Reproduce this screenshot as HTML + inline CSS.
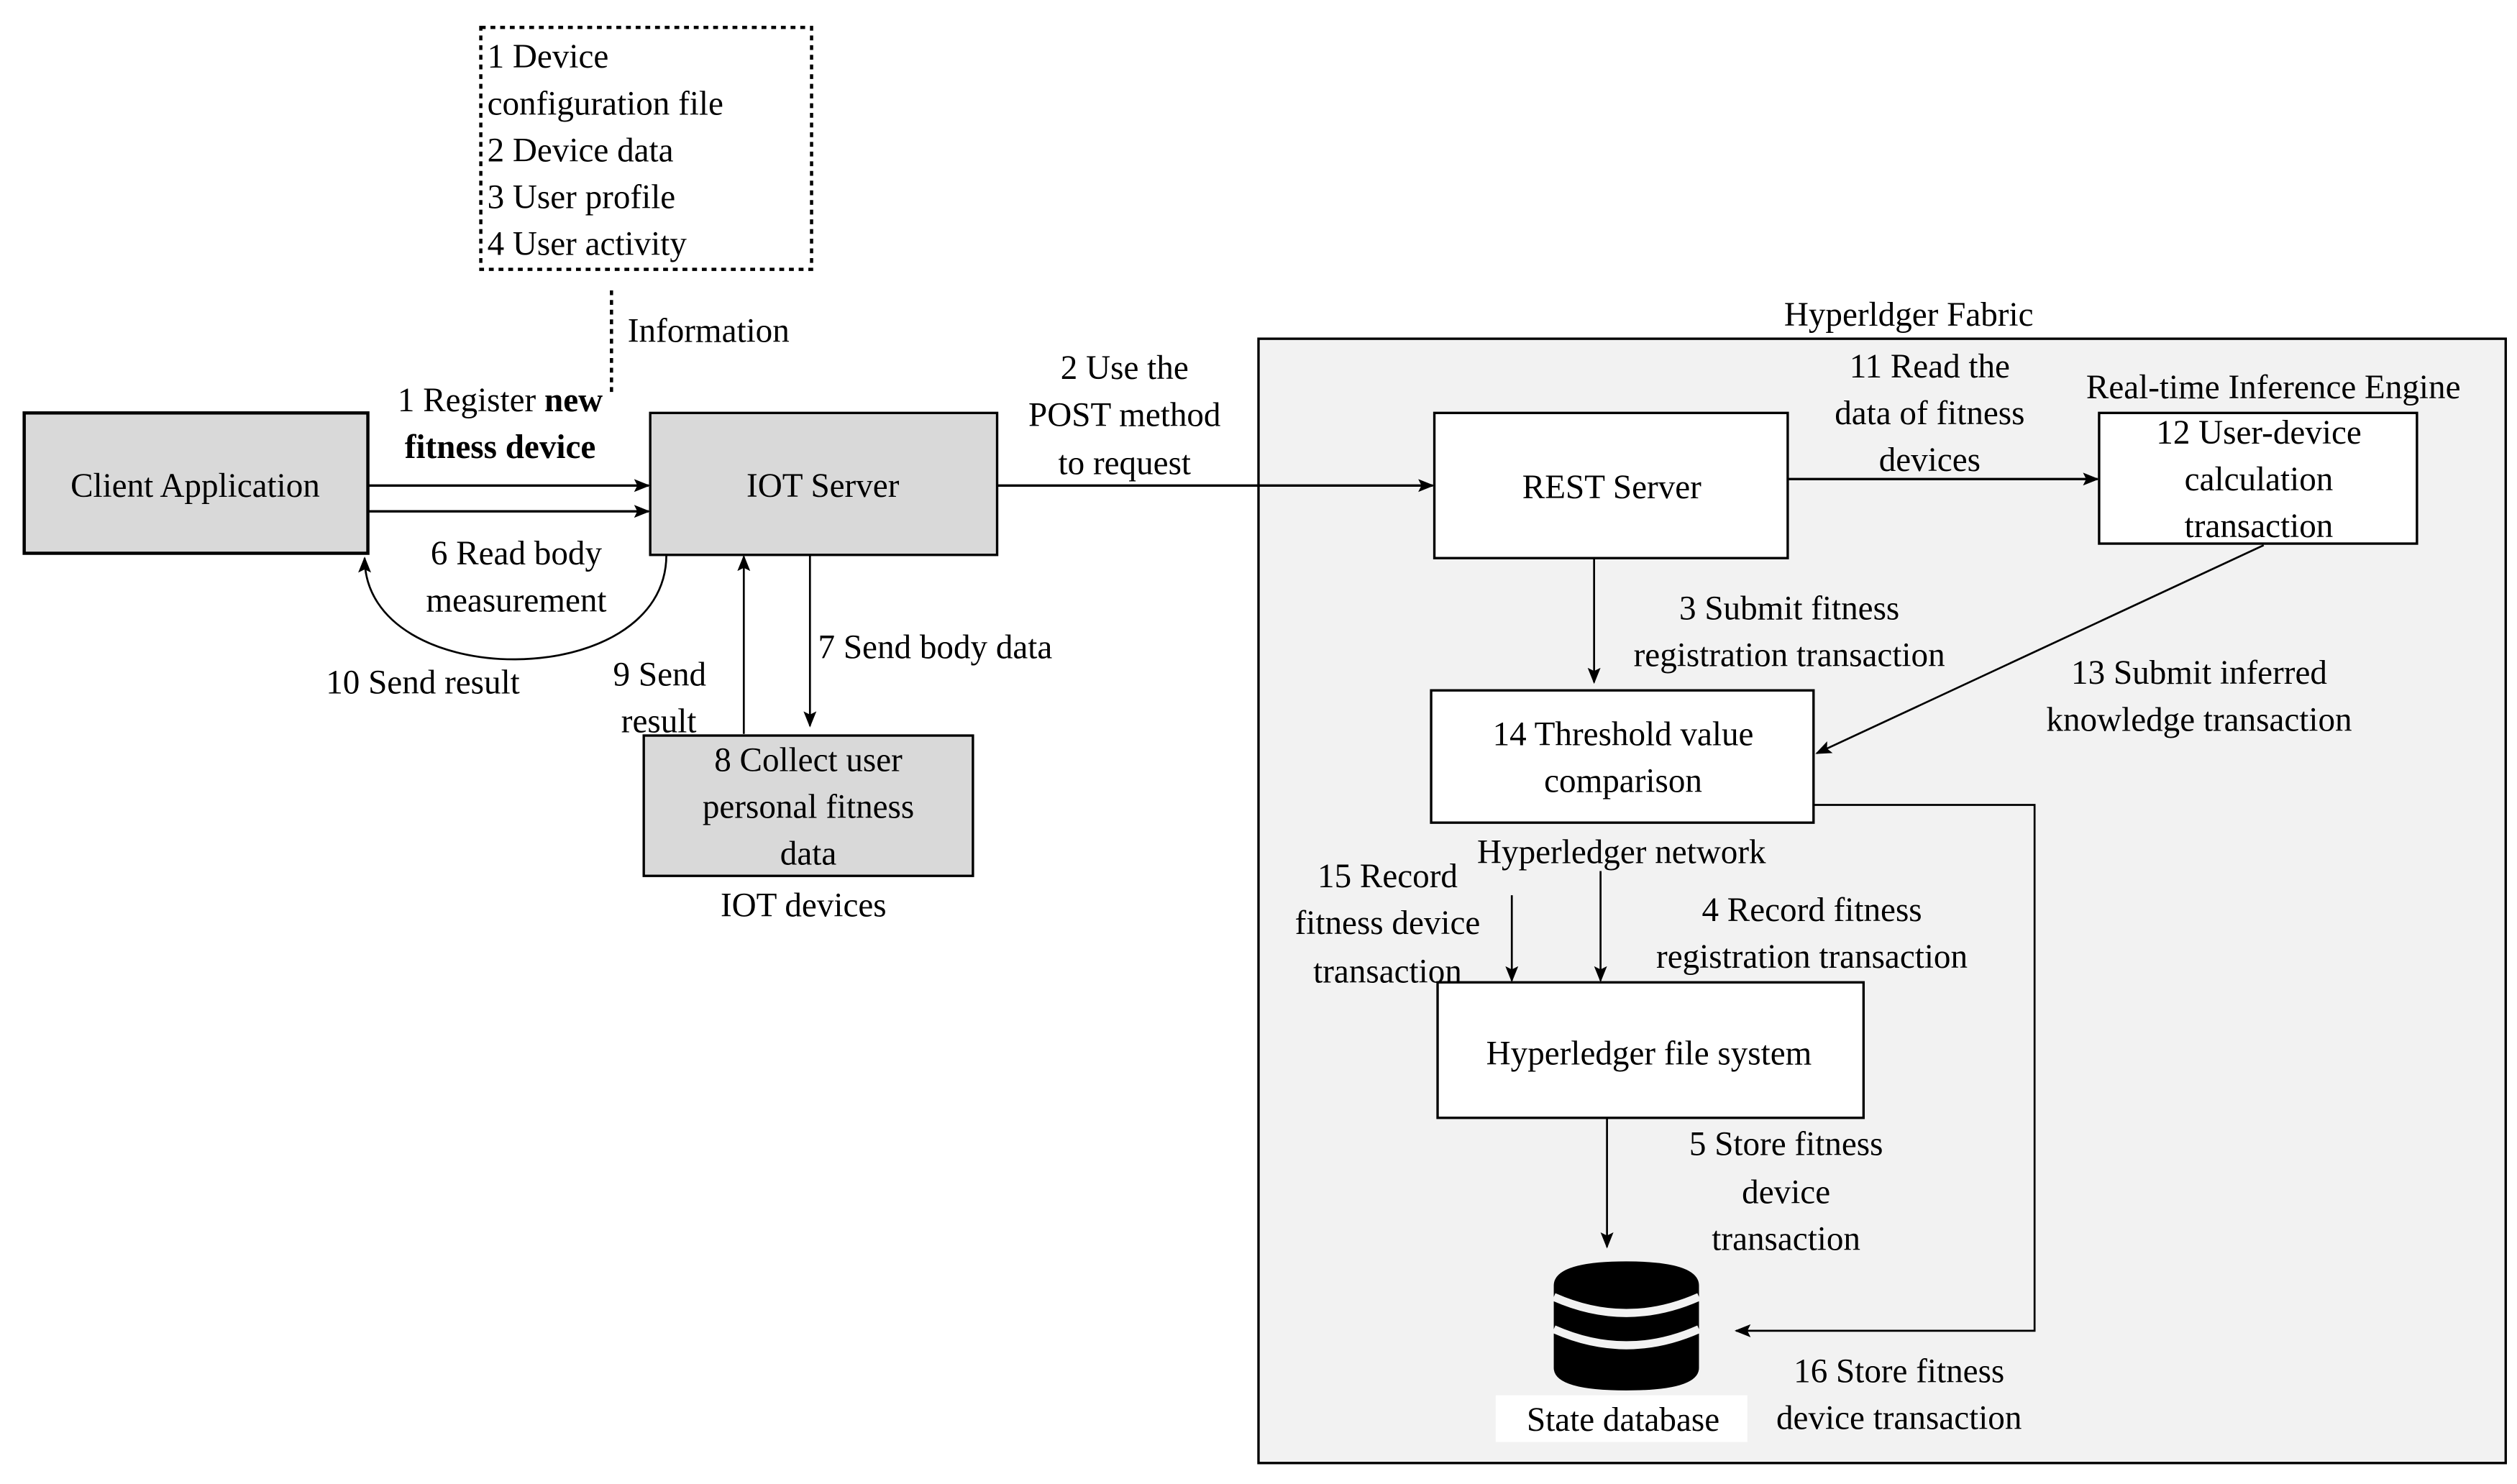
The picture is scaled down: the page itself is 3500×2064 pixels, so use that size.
<!DOCTYPE html>
<html><head><meta charset="utf-8"><style>
html,body{margin:0;padding:0;background:#fff;}
svg{display:block;}
text{font-family:"Liberation Serif","Times New Roman","DejaVu Serif",serif;font-size:21px;fill:#000;}
.c{text-anchor:middle;}
</style></head><body>
<svg width="3500" height="2064" viewBox="0 0 1560 920" preserveAspectRatio="none" xmlns="http://www.w3.org/2000/svg">
<defs>
<marker id="a" markerWidth="10" markerHeight="8" refX="9" refY="4" orient="auto" markerUnits="userSpaceOnUse">
<path d="M0,0 L10,4 L0,8 L2,4 z" fill="#000"/></marker>
</defs>
<rect x="298" y="17" width="205" height="150" fill="none" stroke="#000" stroke-width="2" stroke-dasharray="3,3"/>
<text x="302" y="42">1 Device</text>
<text x="302" y="71">configuration file</text>
<text x="302" y="100">2 Device data</text>
<text x="302" y="129">3 User profile</text>
<text x="302" y="158">4 User activity</text>
<line x1="379" y1="180" x2="379" y2="245" stroke="#000" stroke-width="2" stroke-dasharray="3,3"/>
<text x="389" y="212">Information</text>

<rect x="15" y="256" width="213" height="87" fill="#d9d9d9" stroke="#000" stroke-width="2"/>
<text class="c" x="121" y="308">Client Application</text>
<rect x="403" y="256" width="215" height="88" fill="#d9d9d9" stroke="#000" stroke-width="1.5"/>
<text class="c" x="510" y="308">IOT Server</text>
<line x1="228" y1="301" x2="402" y2="301" stroke="#000" stroke-width="1.5" marker-end="url(#a)"/>
<line x1="228" y1="317" x2="402" y2="317" stroke="#000" stroke-width="1.5" marker-end="url(#a)"/>
<text class="c" x="310" y="255">1 Register <tspan font-weight="bold">new</tspan></text>
<text class="c" x="310" y="284" font-weight="bold">fitness device</text>
<path d="M413,344 C413,430 226,430 226,346" fill="none" stroke="#000" stroke-width="1.2" marker-end="url(#a)"/>
<text class="c" x="320" y="350">6 Read body</text>
<text class="c" x="320" y="379">measurement</text>
<text x="202" y="430">10 Send result</text>
<text x="380" y="425">9 Send</text>
<text x="385" y="454">result</text>
<line x1="461" y1="455" x2="461" y2="345" stroke="#000" stroke-width="1.2" marker-end="url(#a)"/>
<line x1="502" y1="344" x2="502" y2="450" stroke="#000" stroke-width="1.2" marker-end="url(#a)"/>
<text x="507" y="408">7 Send body data</text>
<rect x="399" y="456" width="204" height="87" fill="#d9d9d9" stroke="#000" stroke-width="1.5"/>
<text class="c" x="501" y="478">8 Collect user</text>
<text class="c" x="501" y="507">personal fitness</text>
<text class="c" x="501" y="536">data</text>
<text class="c" x="498" y="568">IOT devices</text>

<rect x="780" y="210" width="773" height="697" fill="#f2f2f2" stroke="#000" stroke-width="1.5"/>
<text class="c" x="1183" y="202">Hyperldger Fabric</text>
<line x1="618" y1="301" x2="888" y2="301" stroke="#000" stroke-width="1.5" marker-end="url(#a)"/>
<text class="c" x="697" y="235">2 Use the</text>
<text class="c" x="697" y="264">POST method</text>
<text class="c" x="697" y="294">to request</text>

<rect x="889" y="256" width="219" height="90" fill="#fff" stroke="#000" stroke-width="1.5"/>
<text class="c" x="999" y="309">REST Server</text>
<line x1="1108" y1="297" x2="1300" y2="297" stroke="#000" stroke-width="1.5" marker-end="url(#a)"/>
<text class="c" x="1196" y="234">11 Read the</text>
<text class="c" x="1196" y="263">data of fitness</text>
<text class="c" x="1196" y="292">devices</text>
<text class="c" x="1409" y="247">Real-time Inference Engine</text>
<rect x="1301" y="256" width="197" height="81" fill="#fff" stroke="#000" stroke-width="1.5"/>
<text class="c" x="1400" y="275">12 User-device</text>
<text class="c" x="1400" y="304">calculation</text>
<text class="c" x="1400" y="333">transaction</text>
<line x1="1403" y1="338" x2="1126" y2="467" stroke="#000" stroke-width="1.2" marker-end="url(#a)"/>
<text class="c" x="1363" y="424">13 Submit inferred</text>
<text class="c" x="1363" y="453">knowledge transaction</text>
<line x1="988" y1="346" x2="988" y2="423" stroke="#000" stroke-width="1.2" marker-end="url(#a)"/>
<text class="c" x="1109" y="384">3 Submit fitness</text>
<text class="c" x="1109" y="413">registration transaction</text>
<rect x="887" y="428" width="237" height="82" fill="#fff" stroke="#000" stroke-width="1.5"/>
<text class="c" x="1006" y="462">14 Threshold value</text>
<text class="c" x="1006" y="491">comparison</text>
<polyline points="1124,499 1261,499 1261,825 1076,825" fill="none" stroke="#000" stroke-width="1.2" marker-end="url(#a)"/>
<text class="c" x="1005" y="535">Hyperledger network</text>
<text class="c" x="860" y="550">15 Record</text>
<text class="c" x="860" y="579">fitness device</text>
<text class="c" x="860" y="609">transaction</text>
<line x1="937" y1="555" x2="937" y2="608" stroke="#000" stroke-width="1.2" marker-end="url(#a)"/>
<line x1="992" y1="540" x2="992" y2="608" stroke="#000" stroke-width="1.2" marker-end="url(#a)"/>
<text class="c" x="1123" y="571">4 Record fitness</text>
<text class="c" x="1123" y="600">registration transaction</text>
<rect x="891" y="609" width="264" height="84" fill="#fff" stroke="#000" stroke-width="1.5"/>
<text class="c" x="1022" y="660">Hyperledger file system</text>
<line x1="996" y1="693" x2="996" y2="773" stroke="#000" stroke-width="1.2" marker-end="url(#a)"/>
<text class="c" x="1107" y="716">5 Store fitness</text>
<text class="c" x="1107" y="746">device</text>
<text class="c" x="1107" y="775">transaction</text>

<!-- DB -->
<path d="M963,797 Q963,782 1008,782 Q1053,782 1053,797 L1053,848 Q1053,862 1008,862 Q963,862 963,848 z" fill="#000"/>
<path d="M963,804 Q1008,824 1053,804" fill="none" stroke="#f2f2f2" stroke-width="5"/>
<path d="M963,824 Q1008,844 1053,824" fill="none" stroke="#f2f2f2" stroke-width="5"/>
<rect x="927" y="865" width="156" height="29" fill="#fff"/>
<text class="c" x="1006" y="887">State database</text>
<text class="c" x="1177" y="857">16 Store fitness</text>
<text class="c" x="1177" y="886">device transaction</text>
</svg>
</body></html>
